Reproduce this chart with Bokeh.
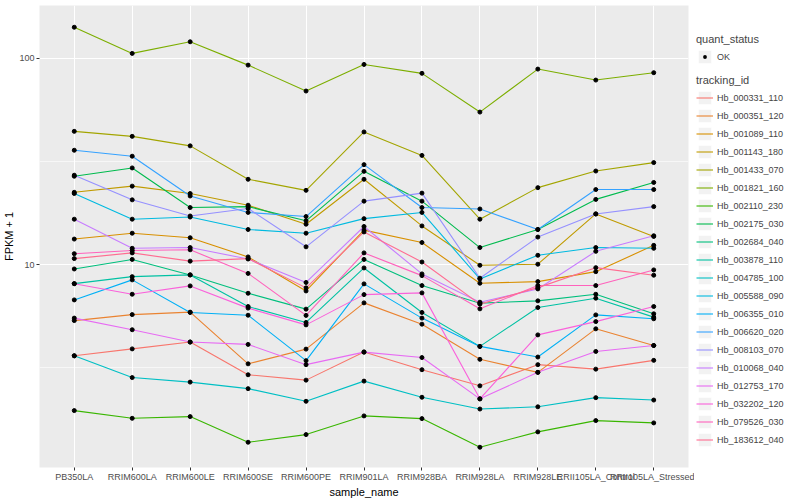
from bokeh.plotting import figure
from bokeh.layouts import row
from bokeh.models import (FactorRange, Range1d, FixedTicker, Legend, LegendItem,
                          NumeralTickFormatter)
from bokeh.embed import file_html
from bokeh.resources import INLINE

samples = ["PB350LA", "RRIM600LA", "RRIM600LE", "RRIM600SE", "RRIM600PE", "RRIM901LA",
           "RRIM928BA", "RRIM928LA", "RRIM928LE", "RRII105LA_Control", "RRII105LA_Stressed"]

tracking_ids = ["Hb_000331_110", "Hb_000351_120", "Hb_001089_110", "Hb_001143_180",
                "Hb_001433_070", "Hb_001821_160", "Hb_002110_230", "Hb_002175_030",
                "Hb_002684_040", "Hb_003878_110", "Hb_004785_100", "Hb_005588_090",
                "Hb_006355_010", "Hb_006620_020", "Hb_008103_070", "Hb_010068_040",
                "Hb_012753_170", "Hb_032202_120", "Hb_079526_030", "Hb_183612_040"]

hb_000331_110 = [3.62, 3.91, 4.22, 2.93, 2.76, 3.78, 3.10, 2.59, 3.28, 3.12, 3.44]
hb_000351_120 = [5.36, 5.73, 5.89, 3.31, 3.90, 6.53, 5.15, 3.48, 3.01, 4.89, 4.06]
hb_001089_110 = [13.3, 14.2, 13.5, 10.9, 7.46, 14.7, 12.8, 8.13, 8.28, 9.25, 12.4]
hb_001143_180 = [22.4, 24.0, 22.1, 19.4, 15.7, 25.9, 15.4, 9.93, 10.05, 17.6, 13.7]
hb_001433_070 = [44.2, 41.8, 37.6, 25.9, 22.9, 43.9, 33.8, 16.6, 23.6, 28.4, 31.2]
hb_001821_160 = [141.1, 105.4, 120.0, 92.5, 69.3, 93.2, 84.4, 54.8, 88.5, 78.3, 85.0]
hb_002110_230 = [1.965, 1.803, 1.838, 1.381, 1.504, 1.852, 1.797, 1.306, 1.550, 1.758, 1.713]
hb_002175_030 = [26.8, 29.4, 18.9, 19.1, 16.3, 28.3, 20.3, 12.1, 14.8, 20.7, 25.0]
hb_002684_040 = [9.53, 10.6, 8.92, 7.27, 6.09, 10.6, 7.92, 6.51, 6.68, 7.19, 5.78]
hb_003878_110 = [8.09, 8.75, 8.92, 6.27, 5.25, 9.64, 5.87, 4.02, 6.20, 6.88, 5.57]
hb_004785_100 = [3.62, 2.84, 2.70, 2.51, 2.18, 2.73, 2.28, 2.00, 2.05, 2.27, 2.21]
hb_005588_090 = [22.1, 16.6, 17.0, 14.8, 14.2, 16.7, 17.9, 8.53, 11.1, 12.1, 12.0]
hb_006355_010 = [6.75, 8.44, 5.87, 5.69, 3.43, 8.07, 5.51, 4.02, 3.57, 5.71, 5.47]
hb_006620_020 = [35.8, 33.5, 21.5, 17.9, 17.1, 30.5, 18.9, 18.6, 14.8, 23.1, 23.1]
hb_008103_070 = [27.1, 20.6, 17.2, 18.7, 12.2, 20.3, 22.2, 8.60, 13.6, 17.6, 19.1]
hb_010068_040 = [16.6, 12.0, 12.1, 10.65, 8.20, 15.3, 9.02, 6.58, 7.63, 11.6, 13.8]
hb_012753_170 = [5.51, 4.84, 4.22, 4.11, 3.28, 3.77, 3.55, 2.24, 3.01, 3.80, 4.06]
hb_032202_120 = [8.09, 7.19, 7.89, 6.16, 5.11, 7.16, 7.30, 2.24, 4.57, 5.30, 6.27]
hb_079526_030 = [11.3, 11.7, 11.8, 9.07, 5.68, 11.4, 8.85, 6.11, 7.92, 7.92, 9.43]
hb_183612_040 = [10.7, 11.4, 10.4, 10.7, 7.72, 14.4, 10.3, 6.44, 7.74, 9.67, 8.89]

series = [hb_000331_110, hb_000351_120, hb_001089_110, hb_001143_180, hb_001433_070,
          hb_001821_160, hb_002110_230, hb_002175_030, hb_002684_040, hb_003878_110,
          hb_004785_100, hb_005588_090, hb_006355_010, hb_006620_020, hb_008103_070,
          hb_010068_040, hb_012753_170, hb_032202_120, hb_079526_030, hb_183612_040]

colors = ["#F8766D", "#EA8331", "#D89000", "#C09B00", "#A3A500", "#7CAE00", "#39B600",
          "#00BB4E", "#00BF7D", "#00C1A3", "#00BFC4", "#00BAE0", "#00B0F6", "#35A2FF",
          "#9590FF", "#C77CFF", "#E76BF3", "#FA62DB", "#FF62BC", "#FF6C91"]

y_ticks = [10, 100]
y_minor = [10 ** 0.5, 10 ** 1.5]

FONT = "Liberation Sans"

x_range = FactorRange(factors=samples, range_padding=0.1, range_padding_units="absolute")
y_range = Range1d(1.042, 179.8)

p = figure(x_range=x_range, y_range=y_range, y_axis_type="log",
           width=694, height=500, output_backend="svg", toolbar_location=None,
           min_border_left=30, min_border_right=6, min_border_top=5, min_border_bottom=10,
           background_fill_color="#EBEBEB", border_fill_color="white", outline_line_color=None)

ticker = FixedTicker(ticks=y_ticks, minor_ticks=y_minor)
p.yaxis.ticker = ticker
p.ygrid.ticker = ticker
p.yaxis.formatter = NumeralTickFormatter(format="0")

for ax in (p.xaxis[0], p.yaxis[0]):
    ax.axis_line_color = None
    ax.major_tick_line_color = "#333333"
    ax.major_tick_out = 3
    ax.major_tick_in = 0
    ax.minor_tick_line_color = None
    ax.major_label_text_font = FONT
    ax.major_label_text_font_size = "9px"
    ax.major_label_text_color = "#4D4D4D"
    ax.major_label_standoff = 1
    ax.axis_label_text_font = FONT
    ax.axis_label_text_font_size = "11px"
    ax.axis_label_text_font_style = "normal"
    ax.axis_label_text_color = "black"
    ax.axis_label_standoff = 1

p.xaxis.axis_label = "sample_name"
p.yaxis.axis_label = "FPKM + 1"

p.xgrid.grid_line_color = "white"
p.xgrid.grid_line_width = 1.1
p.ygrid.grid_line_color = "white"
p.ygrid.grid_line_width = 1.1
p.ygrid.minor_grid_line_color = "white"
p.ygrid.minor_grid_line_width = 0.6

for vals, col in zip(series, colors):
    p.line(samples, vals, line_color=col, line_width=1.1)

for vals in series:
    p.scatter(samples, vals, size=4, color="black")

# legend panel: a side figure whose hidden renderers only feed the legends
q = figure(x_range=x_range, y_range=y_range, y_axis_type="log",
           width=106, height=500, output_backend="svg", toolbar_location=None,
           x_axis_location=None, y_axis_location=None, min_border=0,
           background_fill_color="white", border_fill_color="white", outline_line_color=None)
q.grid.visible = False


def key_bg():
    return q.quad(left=[0], right=[1], top=[1.1], bottom=[1.05],
                  fill_color="#F2F2F2", line_color="white", line_width=1, visible=False)


track_items = []
for tid, vals, col in zip(tracking_ids, series, colors):
    lr = q.line(samples, vals, line_color=col, line_width=1.1, visible=False)
    track_items.append(LegendItem(label=tid, renderers=[key_bg(), lr]))

dot = q.scatter(samples, series[0], size=4, fill_color="black", line_color="#F2F2F2",
                line_width=3, visible=False)
quant_items = [LegendItem(label="OK", renderers=[key_bg(), dot])]


def style_legend(lg):
    lg.title_text_font = FONT
    lg.title_text_font_size = "11px"
    lg.title_text_font_style = "normal"
    lg.title_standoff = 3
    lg.label_text_font = FONT
    lg.label_text_font_size = "9px"
    lg.label_standoff = 4
    lg.glyph_width = 17
    lg.glyph_height = 17
    lg.label_height = 17
    lg.spacing = 1
    lg.padding = 0
    lg.margin = 0
    lg.border_line_color = None
    lg.background_fill_alpha = 0
    lg.inactive_fill_alpha = 0


leg_q = Legend(items=quant_items, title="quant_status", location=(2, 402))
leg_t = Legend(items=track_items, title="tracking_id", location=(2, 19))
style_legend(leg_q)
style_legend(leg_t)
q.add_layout(leg_q, "center")
q.add_layout(leg_t, "center")

layout = row(p, q)
open("out.html", "w").write(file_html(layout, INLINE))
